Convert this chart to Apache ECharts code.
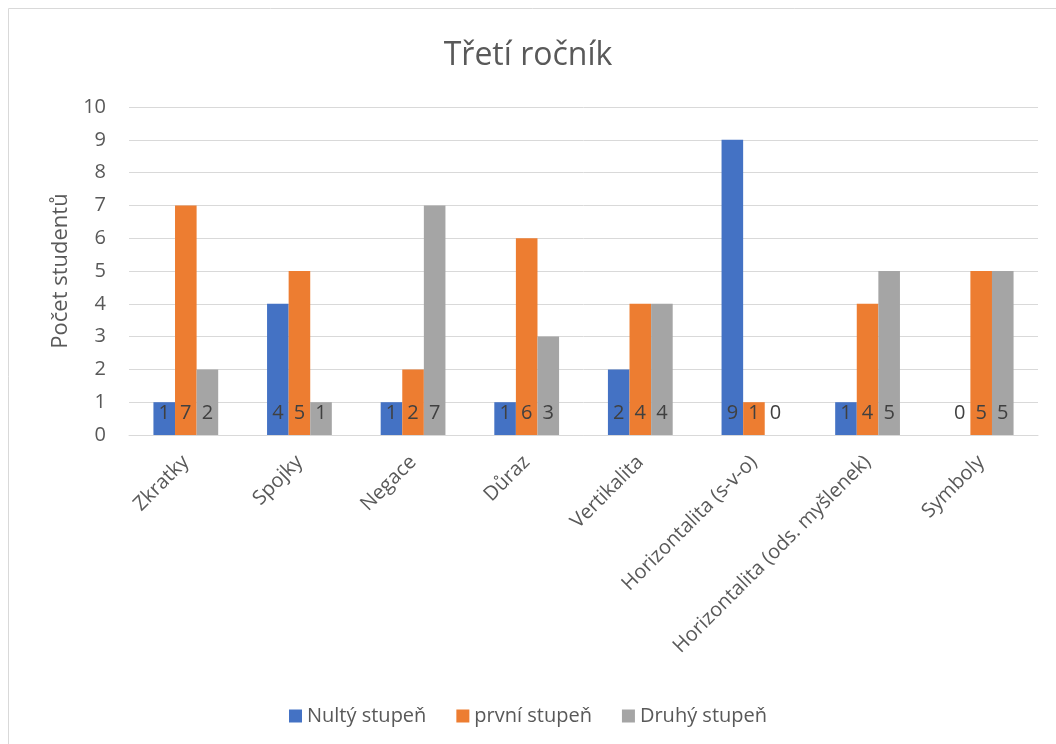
<!DOCTYPE html>
<html>
<head>
<meta charset="utf-8">
<script src="https://cdn.jsdelivr.net/npm/echarts@6/dist/echarts.min.js"></script>
<style>
  html, body { margin: 0; padding: 0; background: #fff; }
  #chart { width: 1056px; height: 744px; }
</style>
</head>
<body>
<div id="chart"></div>
<script>
const categories = ['Zkratky', 'Spojky', 'Negace', 'Důraz', 'Vertikalita',
  'Horizontalita (s-v-o)', 'Horizontalita (ods. myšlenek)', 'Symboly'];
const seriesNames = ['Nultý stupeň', 'první stupeň', 'Druhý stupeň'];
const nulty = [1, 4, 1, 1, 2, 9, 1, 0];
const prvni = [7, 5, 2, 6, 4, 1, 4, 5];
const druhy = [2, 1, 7, 3, 4, 0, 5, 5];
const colors = ['#4472C4', '#ED7D31', '#A5A5A5'];

const font = '"Open Sans", "Noto Sans", sans-serif';

const chart = echarts.init(document.getElementById('chart'));

const makeSeries = (name, data, i) => ({
  name: name,
  type: 'bar',
  data: data,
  barGap: '0%',
  barCategoryGap: '43%',
  itemStyle: { color: colors[i] },
  label: {
    show: true,
    position: 'insideBottom',
    distance: 12,
    color: '#404040',
    fontSize: 20,
    fontFamily: font
  }
});

chart.setOption({
  animation: false,
  color: colors,
  graphic: [{
    type: 'rect',
    shape: { x: 8.5, y: 8.5, width: 1060, height: 760 },
    style: { fill: 'none', stroke: '#d9d9d9', lineWidth: 1 }
  }],
  title: {
    text: 'Třetí ročník',
    left: 'center',
    top: 35,
    textStyle: { color: '#595959', fontSize: 32, fontWeight: 'normal', fontFamily: font }
  },
  legend: {
    data: seriesNames,
    bottom: 13,
    left: 'center',
    icon: 'rect',
    itemWidth: 13,
    itemHeight: 13,
    itemGap: 30,
    textStyle: { color: '#595959', fontSize: 20, fontFamily: font }
  },
  grid: { left: 129, right: 18, top: 107, bottom: 309 },
  xAxis: {
    type: 'category',
    data: categories,
    axisLine: { lineStyle: { color: '#d9d9d9' } },
    axisTick: { show: false },
    axisLabel: { rotate: 45, color: '#595959', fontSize: 20, fontFamily: font, margin: 24, interval: 0 }
  },
  yAxis: {
    type: 'value',
    min: 0,
    max: 10,
    interval: 1,
    name: 'Počet studentů',
    nameLocation: 'middle',
    nameGap: 54,
    nameTextStyle: { color: '#595959', fontSize: 22, fontFamily: font },
    axisLine: { show: false },
    axisTick: { show: false },
    axisLabel: { color: '#595959', fontSize: 20, fontFamily: font, margin: 23 },
    splitLine: { lineStyle: { color: '#d9d9d9' } }
  },
  series: [
    makeSeries(seriesNames[0], nulty, 0),
    makeSeries(seriesNames[1], prvni, 1),
    makeSeries(seriesNames[2], druhy, 2)
  ]
});
</script>
</body>
</html>
